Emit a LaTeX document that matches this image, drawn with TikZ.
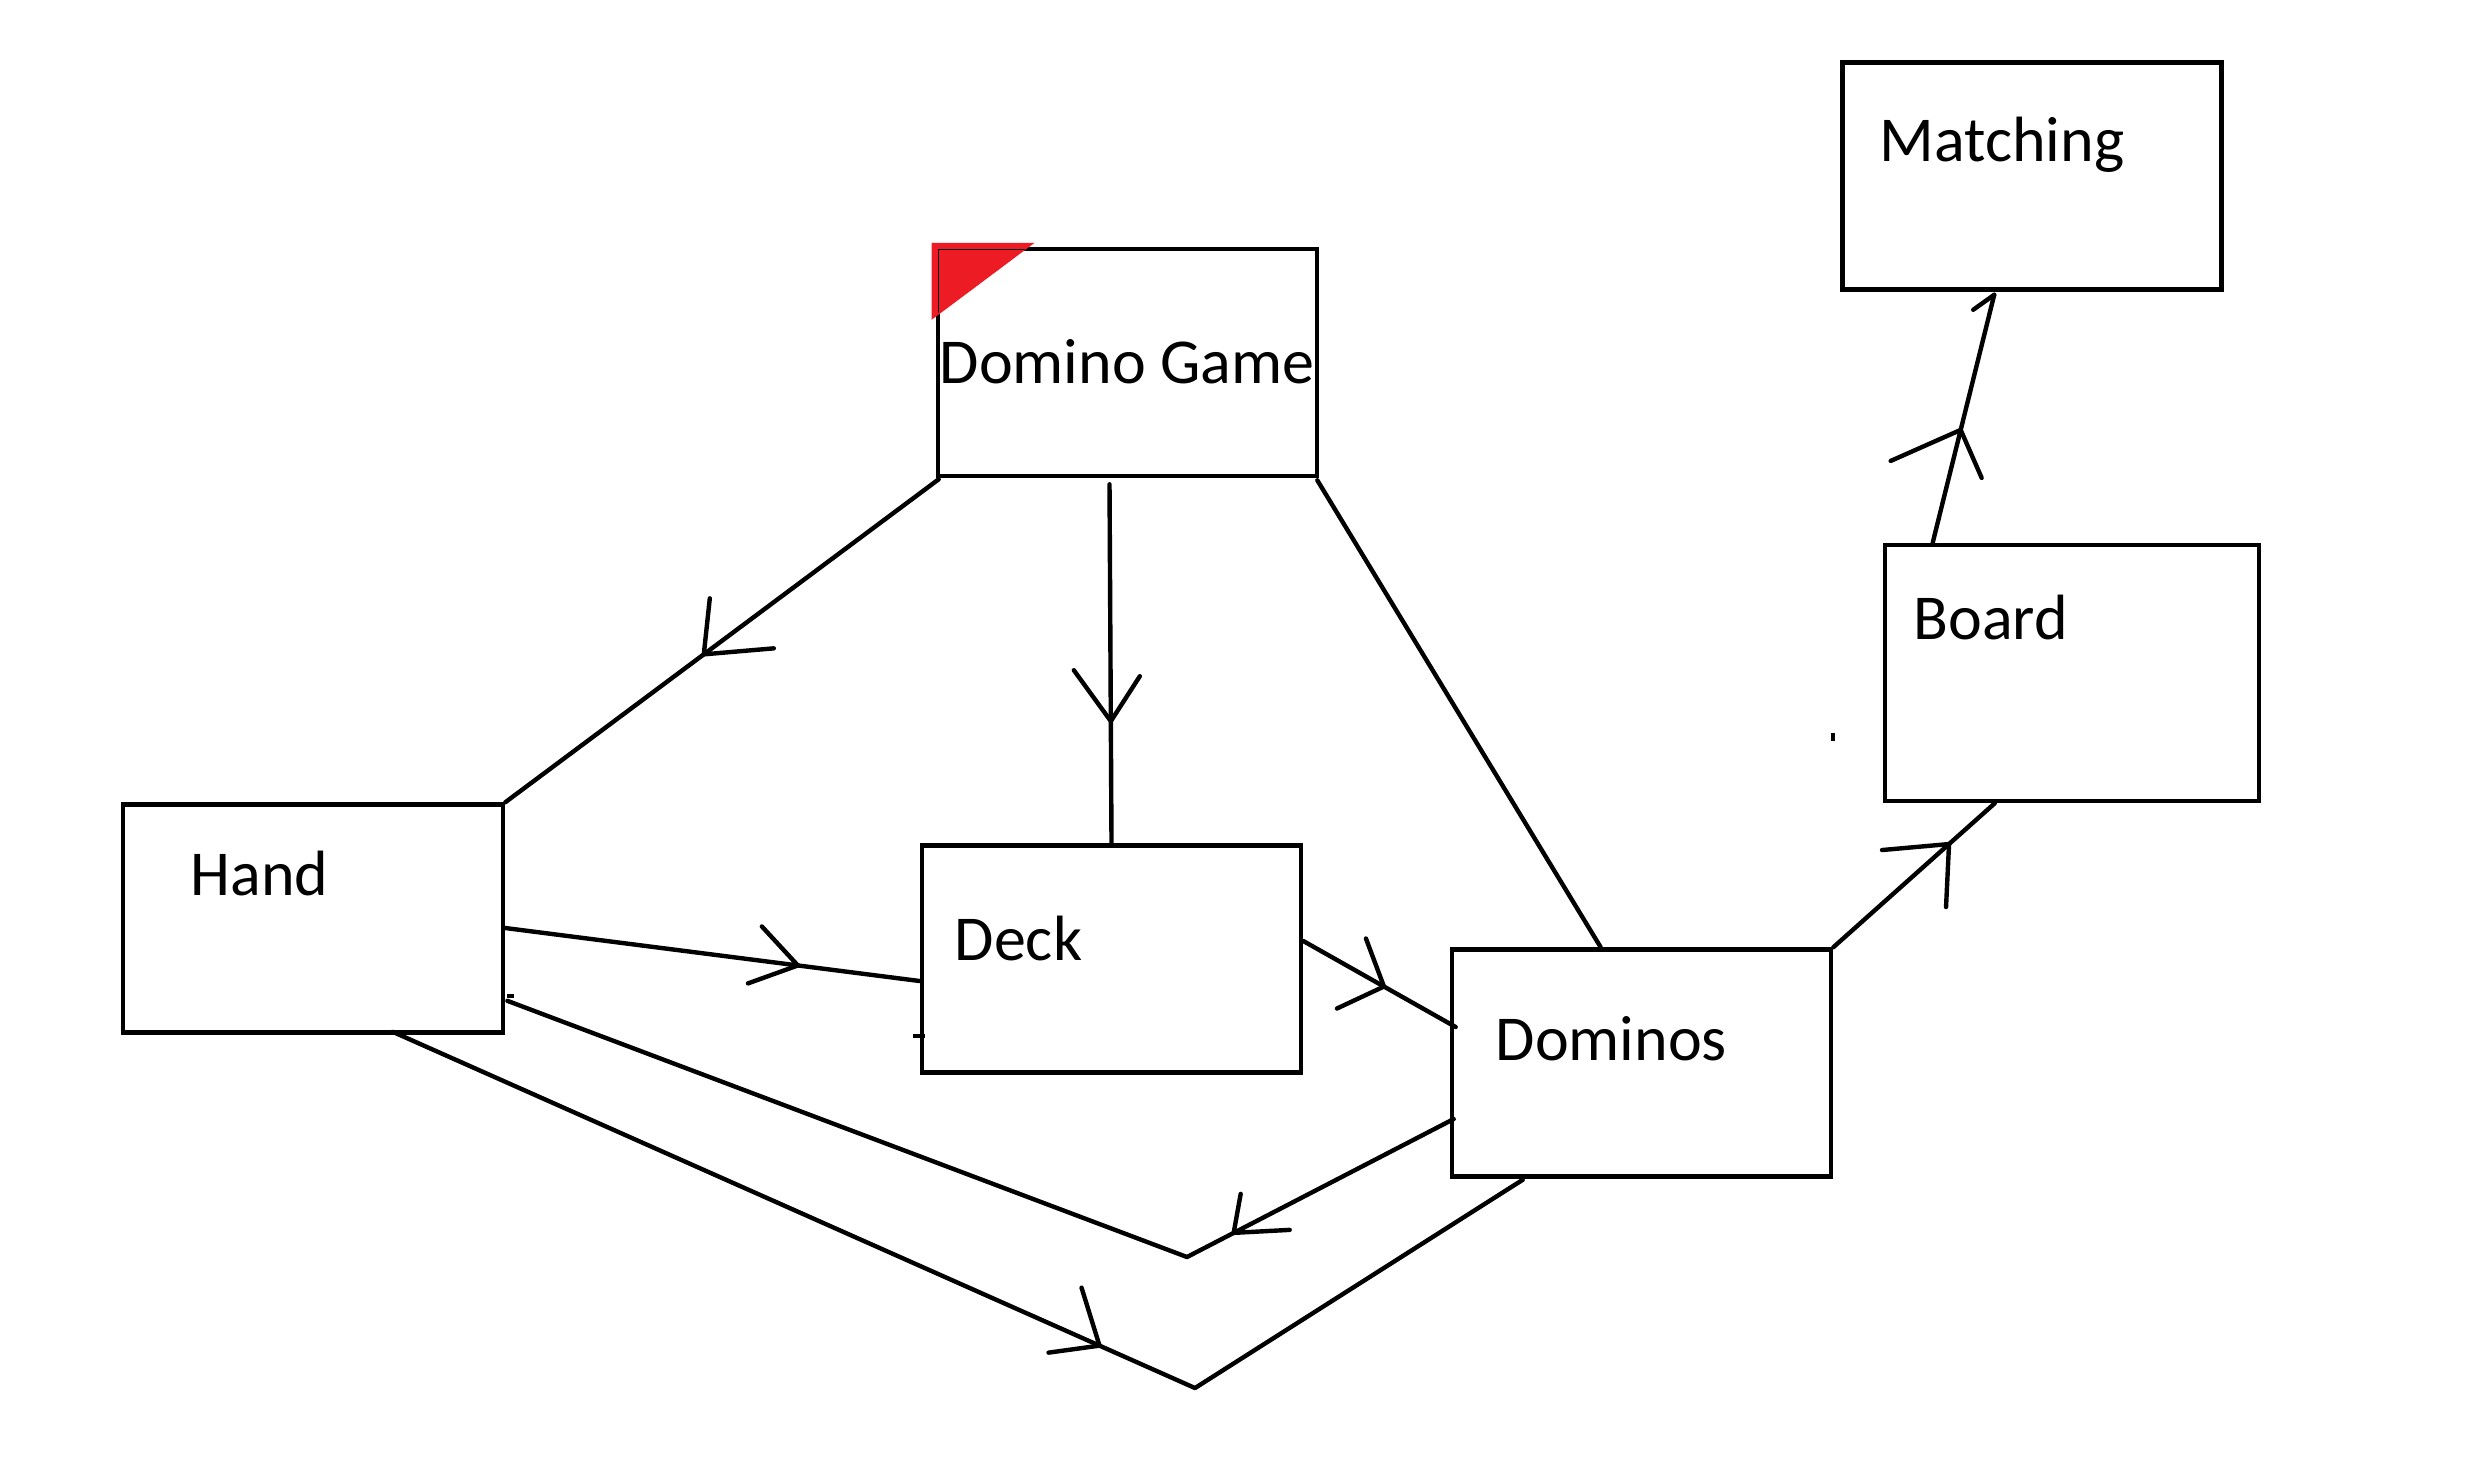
\documentclass[tikz,border=0pt]{standalone}
\usepackage{fontspec}
\setmainfont{Carlito}
\usetikzlibrary{calc}
\definecolor{paintred}{RGB}{237,28,36}
\begin{document}
\begin{tikzpicture}[x=0.01cm,y=-0.01cm,
  box/.style={draw, line width=0.044cm, inner sep=0, minimum width=3.79cm, minimum height=2.27cm},
  lbl/.style={anchor=base west, inner sep=0, font=\fontsize{18.2pt}{20pt}\selectfont},
  conn/.style={draw, line width=0.044cm, line cap=round, line join=round},
  barb/.style={draw, line width=0.044cm, line cap=round, line join=miter},
  speck/.style={line width=0.044cm}]
\useasboundingbox (0,0) rectangle (2476,1456);
\fill[white] (0,0) rectangle (2476,1456);

% boxes
\node[box] (dg) at (1127.5,362.5) {};
\node[box] (deck) at (1111.5,959) {};
\node[box] (dom) at (1641.5,1063) {};
\node[box, minimum width=3.80cm, minimum height=2.28cm] (hand) at (313,918.5) {};
\node[box] (match) at (2032,176) {};
\node[box, minimum width=3.74cm, minimum height=2.56cm] (board) at (2072,673) {};

% red corner mark
\fill[paintred] ($(dg.north west)+(-4,-4)$) -- ($(dg.north west)+(99,-4)$) -- ($(dg.north west)+(-4,73)$) -- cycle;
\draw[line width=0.01cm] ($(dg.north west)+(3,66)$) -- ($(dg.north west)+(3,3)$) -- ($(dg.north west)+(89,3)$);

% labels
\node[lbl] (dg-t) at (939,383) {Domino Game};
\node[lbl] (match-t) at (1879,161) {Matching};
\node[lbl] (board-t) at (1913,639) {Board};
\node[lbl] (hand-t) at (190,895) {Hand};
\node[lbl] (deck-t) at (954,960) {Deck};
\node[lbl] (dom-t) at (1495,1060) {Dominos};

% Domino Game -> Hand
\draw[conn] ($(dg.south west)+(3,1)$) -- coordinate[pos=0.542] (t1) (hand.north east);
\draw[barb] ($(t1)+(6,-56)$) -- (t1) -- ($(t1)+(70,-6)$);

% Domino Game -> Deck
\draw[conn] ($(dg.south)+(-18,6)$) -- coordinate[pos=0.66] (t2) (deck.north);
\draw[barb] ($(t2)+(-37,-51)$) -- (t2) -- ($(t2)+(29,-45)$);

% Domino Game -- Dominos
\draw[conn] ($(dg.south east)+(-2,2)$) -- ($(dom.north west)+(151,0)$);

% Hand -> Deck
\draw[conn] ($(hand.east)+(0,9.5)$) -- coordinate[pos=0.706] (t4) ($(deck.west)+(0,22)$);
\draw[barb] ($(t4)+(-36,-39)$) -- (t4) -- ($(t4)+(-50,18)$);

% Deck -> Dominos
\draw[conn] ($(deck.east)+(0,-18)$) -- coordinate[pos=0.529] (t5) ($(dom.west)+(6,-36)$);
\draw[barb] ($(t5)+(-18,-48)$) -- (t5) -- ($(t5)+(-47,22)$);

% Dominos -> Hand (upper)
\coordinate (v1) at (1187,1257);
\draw[conn] ($(dom.west)+(4,56)$) -- coordinate[pos=0.825] (t6) (v1) -- ($(hand.south east)+(2,-34)$);
\draw[barb] ($(t6)+(7,-39)$) -- (t6) -- ($(t6)+(56,-3)$);

% Hand -> Dominos (lower)
\coordinate (v2) at (1195,1388);
\draw[conn] ($(hand.south west)+(272,-3)$) -- coordinate[pos=0.881] (t7) (v2) -- ($(dom.south west)+(73,1)$);
\draw[barb] ($(t7)+(-18,-58)$) -- (t7) -- ($(t7)+(-51,7)$);

% Dominos -> Board
\draw[conn] (dom.north east) -- coordinate[pos=0.717] (t8) ($(board.south west)+(112,0)$);
\draw[barb] ($(t8)+(-67,6)$) -- (t8) -- ($(t8)+(-3,63)$);

% Board -> Matching
\coordinate (e9) at ($(match.south west)+(154,3)$);
\draw[conn] ($(board.north west)+(50,0)$) -- coordinate[pos=0.455] (t9) (e9);
\draw[barb] ($(t9)+(-70,31)$) -- (t9) -- ($(t9)+(21,48)$);
\draw[barb] (e9) -- ++(-21,15);

% small stray marks
\draw[speck] ($(deck.south west)+(-7,-39)$) -- ($(deck.south west)+(5,-39)$);
\draw[speck] ($(hand.south east)+(2,-39)$) -- ($(hand.south east)+(9,-39)$);
\fill (1831,733) rectangle (1835,741);
\end{tikzpicture}
\end{document}
